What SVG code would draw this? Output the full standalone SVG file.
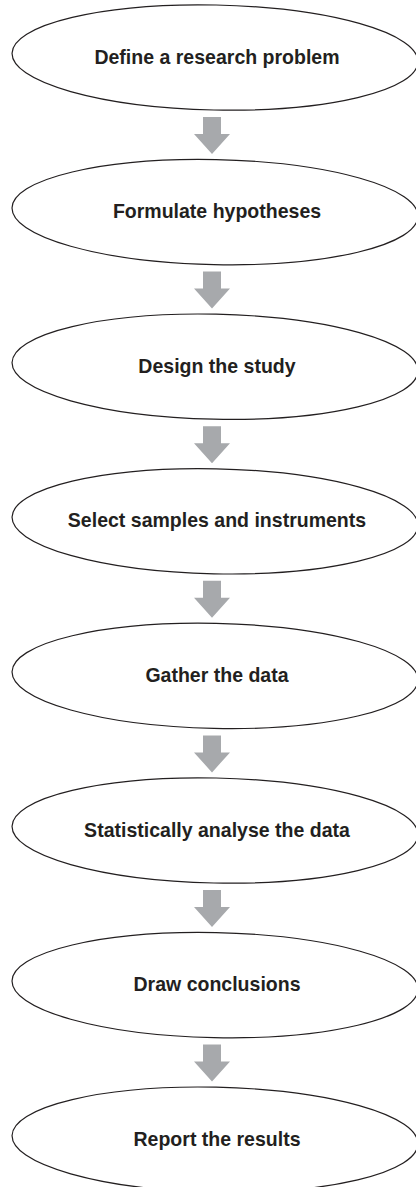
<svg xmlns="http://www.w3.org/2000/svg" xmlns:xlink="http://www.w3.org/1999/xlink" width="416" height="1187" viewBox="0 0 416 1187">
  <style>
    .node ellipse { fill: #ffffff; stroke: #231f20; stroke-width: 1.2; }
    .node text { font-family: "Liberation Sans", Arial, sans-serif; font-weight: bold; font-size: 21px; fill: #231f20; text-anchor: middle; }
    .arrow { fill: #a7a9ac; }
  </style>
  <defs>
    <!-- block arrow, shaft top at y=0 -->
    <path id="down" class="arrow" d="M203,0 H221 V17 H230 L212,37 L194,17 H203 Z"/>
  </defs>
  <rect width="416" height="1187" fill="#ffffff"/>

  <g id="connectors">
    <use xlink:href="#down" transform="translate(0 117)"/>
    <use xlink:href="#down" transform="translate(0 271.6)"/>
    <use xlink:href="#down" transform="translate(0 426.2)"/>
    <use xlink:href="#down" transform="translate(0 580.8)"/>
    <use xlink:href="#down" transform="translate(0 735.4)"/>
    <use xlink:href="#down" transform="translate(0 890)"/>
    <use xlink:href="#down" transform="translate(0 1044.6)"/>
  </g>

  <g id="n1" class="node">
    <ellipse cx="215" cy="57.5" rx="203" ry="52.5" transform="rotate(1.2 215 57.5)"/>
    <text transform="translate(217 63.5) scale(0.93 1)">Define a research problem</text>
  </g>
  <g id="n2" class="node">
    <ellipse cx="215" cy="212.1" rx="203" ry="52.5" transform="rotate(1.2 215 212.1)"/>
    <text transform="translate(217 218.1) scale(0.93 1)">Formulate hypotheses</text>
  </g>
  <g id="n3" class="node">
    <ellipse cx="215" cy="366.7" rx="203" ry="52.5" transform="rotate(1.2 215 366.7)"/>
    <text transform="translate(217 372.7) scale(0.93 1)">Design the study</text>
  </g>
  <g id="n4" class="node">
    <ellipse cx="215" cy="521.3" rx="203" ry="52.5" transform="rotate(1.2 215 521.3)"/>
    <text transform="translate(217 527.3) scale(0.93 1)">Select samples and instruments</text>
  </g>
  <g id="n5" class="node">
    <ellipse cx="215" cy="675.9" rx="203" ry="52.5" transform="rotate(1.2 215 675.9)"/>
    <text transform="translate(217 681.9) scale(0.93 1)">Gather the data</text>
  </g>
  <g id="n6" class="node">
    <ellipse cx="215" cy="830.5" rx="203" ry="52.5" transform="rotate(1.2 215 830.5)"/>
    <text transform="translate(217 836.5) scale(0.93 1)">Statistically analyse the data</text>
  </g>
  <g id="n7" class="node">
    <ellipse cx="215" cy="985.1" rx="203" ry="52.5" transform="rotate(1.2 215 985.1)"/>
    <text transform="translate(217 991.1) scale(0.93 1)">Draw conclusions</text>
  </g>
  <g id="n8" class="node">
    <ellipse cx="215" cy="1139.7" rx="203" ry="52.5" transform="rotate(1.2 215 1139.7)"/>
    <text transform="translate(217 1145.7) scale(0.93 1)">Report the results</text>
  </g>
</svg>
